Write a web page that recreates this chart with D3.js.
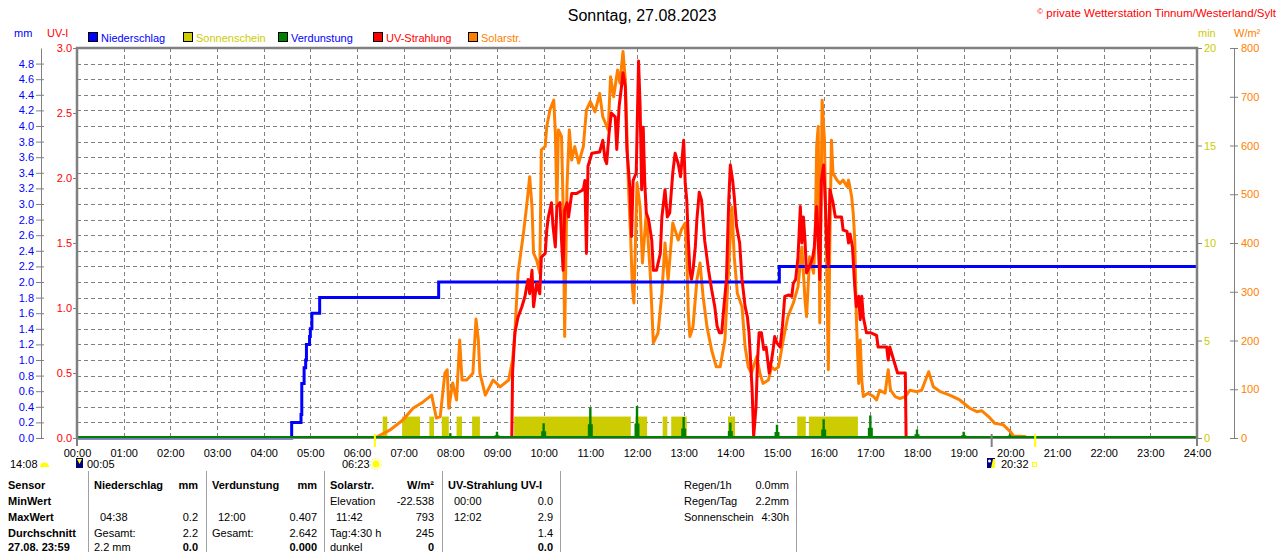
<!DOCTYPE html>
<html>
<head>
<meta charset="utf-8">
<script src="https://cdn.jsdelivr.net/npm/d3@7"></script>
<style>
body { margin: 0; background: #fff; }
svg { display: block; font-family: "Liberation Sans", Arial, sans-serif; font-size: 11px; }
</style>
</head>
<body>
<svg id="chart" width="1280" height="552"></svg>
<script>
// ---- data (times are minutes after midnight) ----
var hourLabels = ["00:00","01:00","02:00","03:00","04:00","05:00","06:00","07:00","08:00","09:00","10:00","11:00","12:00",
                  "13:00","14:00","15:00","16:00","17:00","18:00","19:00","20:00","21:00","22:00","23:00","24:00"];
var mmTicks = [0.0,0.2,0.4,0.6,0.8,1.0,1.2,1.4,1.6,1.8,2.0,2.2,2.4,2.6,2.8,3.0,3.2,3.4,3.6,3.8,4.0,4.2,4.4,4.6,4.8];
var uvTicks = [0.0,0.5,1.0,1.5,2.0,2.5,3.0];
var minTicks = [0,5,10,15,20];
var wTicks = [0,100,200,300,400,500,600,700,800];

// Niederschlag, cumulated (mm)
var rainTime = [0,276,288,289,292,294,295,298,299,300,302,310,312,465,903,1440];
var rainMm   = [0,0.2,0.3,0.7,0.9,1.0,1.2,1.2,1.3,1.4,1.6,1.6,1.8,2.0,2.2,2.2];

// Sonnenschein (min), intervals
var sunStart = [393,418,453,469,488,508,562,718,753,764,837,926,941];
var sunEnd   = [399,441,459,478,495,518,712,733,759,784,846,937,1004];
var sunMin   = [1.1,1.1,1.1,1.1,1.1,1.1,1.1,1.1,1.1,1.1,1.1,1.1,1.1];

// Verdunstung per hour (mm)
var evapTime = [60,120,180,240,300,360,420,480,540,600,660,720,780,840,900,960,1020,1080,1140,1200,1260,1320,1380];
var evapMm   = [0.02,0.02,0.02,0.02,0.02,0.02,0.01,0.06,0.08,0.19,0.39,0.41,0.27,0.20,0.17,0.24,0.29,0.11,0.08,0.07,0.025,0.025,0.025];

// Solarstrahlung (W/m2)
var solarTime = [383,402,419,432,445,456,458,462,467,473,476,478,483,488,492,495,501,509,513,516,518,525,535,544,555,560,563,567,574,578,
  582,585,587,591,595,597,602,604,608,613,615,617,619,623,625,627,630,633,636,640,645,651,655,660,666,672,676,683,686,690,
  695,698,702,705,709,712,714,716,720,724,727,732,737,741,747,752,756,760,766,773,777,782,784,786,788,792,797,801,805,810,
  816,822,827,833,837,842,845,849,855,859,863,867,874,878,882,889,893,897,902,908,914,921,927,932,936,938,942,947,949,951,
  953,955,958,961,964,966,968,970,972,977,981,985,990,992,996,998,1000,1002,1005,1007,1009,1011,1017,1024,1028,1032,1039,1043,1046,1052,
  1058,1065,1071,1080,1086,1095,1101,1110,1122,1135,1148,1157,1163,1172,1180,1191,1200,1204,1219,1220];
var solarW = [0,16,37,61,74,88,72,41,44,133,140,61,113,78,201,119,119,133,244,201,133,88,119,105,119,160,215,338,420,474,
  536,474,379,365,338,591,598,639,673,693,626,474,632,618,474,208,516,632,570,598,564,598,673,690,669,707,659,632,741,700,
  755,728,793,734,516,406,310,277,523,474,359,462,338,195,215,297,400,324,441,406,427,441,372,256,208,228,324,359,290,228,
  180,146,146,201,324,474,372,297,269,187,146,133,167,133,112,119,146,140,146,201,249,277,310,392,283,249,372,338,406,598,
  639,236,693,611,338,140,406,611,543,529,522,529,516,529,495,461,406,249,112,201,119,85,92,85,78,98,92,140,98,85,
  81,85,98,95,98,136,105,95,88,78,61,54,56,44,30,27,13,4,3,0];

// UV-Strahlung (UV-I)
var uvTime = [559,560,563,567,572,576,578,580,582,585,587,591,595,597,602,604,606,610,612,615,617,621,623,625,627,630,632,636,642,645,
  651,653,655,657,662,672,676,679,681,684,687,692,694,697,700,702,705,707,711,713,715,719,722,724,726,728,730,732,735,739,
  741,745,750,752,756,759,762,766,769,773,776,780,782,784,786,788,790,792,795,797,800,803,807,812,816,820,823,826,829,831,
  835,838,840,843,845,848,852,855,859,862,864,866,868,870,873,875,877,880,883,886,888,890,893,895,897,900,904,907,910,915,
  919,921,924,927,930,932,934,936,938,942,946,948,951,953,955,957,960,962,964,966,968,972,975,983,985,990,992,994,997,1000,
  1002,1005,1007,1009,1011,1015,1020,1028,1030,1041,1043,1045,1050,1055,1065,1066];
var uvVal = [0,0.5,0.81,0.93,1.01,1.09,1.16,1.22,1.11,1.29,1.01,1.19,1.11,1.39,1.42,1.60,1.70,1.81,1.63,1.47,1.78,1.81,1.52,1.29,1.75,1.81,1.70,1.88,1.88,1.89,
  1.91,1.98,1.42,2.09,2.19,2.20,2.29,2.14,2.11,2.34,2.50,2.47,2.22,2.55,2.70,2.81,2.70,2.22,1.91,1.55,1.98,2.04,2.90,2.55,1.91,2.39,1.96,1.73,1.68,1.52,
  1.29,1.29,1.42,1.70,1.91,1.70,1.73,2.04,2.19,2.11,2.01,2.29,1.96,1.83,1.52,1.29,1.22,1.29,1.47,1.68,1.89,1.83,1.52,1.29,1.14,1.01,0.86,0.81,0.81,0.96,
  1.22,1.83,2.10,1.98,1.86,1.63,1.50,1.22,1.01,0.93,0.81,0.60,0.37,0.01,0.24,0.60,0.81,0.81,0.68,0.70,0.60,0.50,0.60,0.68,0.78,0.73,0.70,0.86,1.09,1.10,
  1.09,1.19,1.22,1.39,1.78,1.50,1.70,1.52,1.27,1.32,1.39,1.47,1.78,1.52,1.22,1.98,2.10,1.83,1.47,1.32,1.91,1.81,1.70,1.70,1.60,1.59,1.50,1.57,1.47,1.16,
  1.01,1.09,0.91,1.09,0.93,0.81,0.81,0.79,0.70,0.70,0.60,0.70,0.60,0.50,0.50,0];

// legend
var legendNames  = ["Niederschlag","Sonnenschein","Verdunstung","UV-Strahlung","Solarstr."];
var legendFill   = ["#0000ff","#cccc00","#008000","#ff0000","#ff8000"];
var legendText   = ["#0000ff","#cccc00","#0000ff","#ff0000","#ff8000"];

// time markers below the axis
var markTime  = [383,1176,1232];
var markColor = ["#ffff00","#808080","#ffff00"];

// table under the chart
var rowLabels = ["Sensor","MinWert","MaxWert","Durchschnitt","27.08. 23:59"];
var colNames  = ["Niederschlag","Verdunstung","Solarstr.","UV-Strahlung UV-I"];
var colUnits  = ["mm","mm","W/m²",""];
var minLeft   = ["","","Elevation","00:00"];
var minRight  = ["","","-22.538","0.0"];
var maxLeft   = ["04:38","12:00","11:42","12:02"];
var maxRight  = ["0.2","0.407","793","2.9"];
var avgLeft   = ["Gesamt:","Gesamt:","Tag:4:30 h",""];
var avgRight  = ["2.2","2.642","245","1.4"];
var curLeft   = ["2.2 mm","","dunkel",""];
var curRight  = ["0.0","0.000","0","0.0"];
var sideNames = ["Regen/1h","Regen/Tag","Sonnenschein"];
var sideVals  = ["0.0mm","2.2mm","4:30h"];

// ---- drawing ----
var svg = d3.select("#chart");
var L = 77, R = 1197, T = 48, B = 438;

var x = d3.scaleLinear().domain([0, 1440]).range([L, R]);
var yMm = d3.scaleLinear().domain([0, 5]).range([B, T]);
var yUV = d3.scaleLinear().domain([0, 3]).range([B, T]);
var yMin = d3.scaleLinear().domain([0, 20]).range([B, T]);
var yW = d3.scaleLinear().domain([0, 800]).range([B, T]);

svg.append("rect").attr("width", 1280).attr("height", 552).attr("fill", "#fff");

// grid
var grid = svg.append("g").attr("stroke", "#808080").attr("stroke-dasharray", "4,3").attr("stroke-width", 1);
grid.selectAll("line.v").data(d3.range(60, 1440, 60)).join("line")
  .attr("x1", d => Math.round(x(d)) + 0.5).attr("x2", d => Math.round(x(d)) + 0.5)
  .attr("y1", T).attr("y2", B);
grid.selectAll("line.h").data(mmTicks.slice(1).concat([5])).join("line")
  .attr("x1", L).attr("x2", R)
  .attr("y1", d => Math.round(yMm(d)) + 0.5).attr("y2", d => Math.round(yMm(d)) + 0.5);

// sunshine bars
svg.append("g").selectAll("rect").data(sunStart).join("rect")
  .attr("x", (d, i) => x(d)).attr("width", (d, i) => x(sunEnd[i]) - x(d))
  .attr("y", (d, i) => yMin(sunMin[i])).attr("height", (d, i) => yMin(0) - yMin(sunMin[i]))
  .attr("fill", "#cccc00");

// evaporation spikes
svg.append("g").selectAll("path").data(evapTime).join("path")
  .attr("d", function(t, i) {
    var cx = x(t), v = evapMm[i], top = yMm(v), mid = yMm(v * 0.45), base = yMm(0);
    return "M" + (cx - 2.5) + "," + base + "V" + mid + "H" + (cx - 1.2) + "V" + top +
           "H" + (cx + 1.2) + "V" + mid + "H" + (cx + 2.5) + "V" + base + "Z";
  })
  .attr("fill", "#008000");

// solar
var solarData = solarTime.map((t, i) => ({ t: t, v: solarW[i] }));
svg.append("path").datum(solarData)
  .attr("d", d3.line().x(d => x(d.t)).y(d => yW(d.v)))
  .attr("fill", "none").attr("stroke", "#ff8000").attr("stroke-width", 3).attr("stroke-linejoin", "round");

// rain
var rainData = rainTime.map((t, i) => ({ t: t, v: rainMm[i] }));
svg.append("path").datum(rainData)
  .attr("d", d3.line().x(d => x(d.t)).y(d => yMm(d.v)).curve(d3.curveStepAfter))
  .attr("fill", "none").attr("stroke", "#0000ff").attr("stroke-width", 3);

// uv
var uvData = uvTime.map((t, i) => ({ t: t, v: uvVal[i] }));
svg.append("path").datum(uvData)
  .attr("d", d3.line().x(d => x(d.t)).y(d => yUV(d.v)))
  .attr("fill", "none").attr("stroke", "#ff0000").attr("stroke-width", 3).attr("stroke-linejoin", "round");

// frame
svg.append("line").attr("x1", L).attr("x2", R).attr("y1", B + 0.5).attr("y2", B + 0.5).attr("stroke", "#808080");
svg.append("line").attr("x1", L).attr("x2", R).attr("y1", B - 1).attr("y2", B - 1).attr("stroke", "#008000").attr("stroke-width", 2);
svg.append("path").attr("d", "M" + L + "," + B + "V" + T + "H" + R + "V" + B)
  .attr("fill", "none").attr("stroke", "#808080").attr("stroke-width", 2.5);

// axes
function styleAxis(g, color) {
  g.selectAll(".tick line").attr("stroke", "#808080");
  g.selectAll(".domain").attr("stroke", "#808080");
  g.selectAll("text").attr("fill", color).style("font-family", "Liberation Sans, Arial, sans-serif").style("font-size", "11px");
}

var mmAxis = svg.append("g").attr("transform", "translate(41,0)")
  .call(d3.axisLeft(yMm).tickValues(mmTicks).tickFormat(d3.format(".1f")).tickSize(5).tickSizeOuter(0).tickPadding(2));
mmAxis.selectAll(".tick line").attr("x1", 3);
styleAxis(mmAxis, "#0000ff");

var uvAxis = svg.append("g").attr("transform", "translate(" + L + ",0)")
  .call(d3.axisLeft(yUV).tickValues(uvTicks).tickFormat(d3.format(".1f")).tickSize(4).tickSizeOuter(0).tickPadding(1));
uvAxis.select(".domain").remove();
styleAxis(uvAxis, "#ff0000");

var minAxis = svg.append("g").attr("transform", "translate(" + R + ",0)")
  .call(d3.axisRight(yMin).tickValues(minTicks).tickSize(5).tickSizeOuter(0).tickPadding(2));
minAxis.select(".domain").remove();
styleAxis(minAxis, "#cccc00");

var wAxis = svg.append("g").attr("transform", "translate(1234,0)")
  .call(d3.axisRight(yW).tickValues(wTicks).tickSize(4).tickSizeOuter(0).tickPadding(3));
wAxis.selectAll(".tick line").attr("x1", -4);
styleAxis(wAxis, "#ff8000");

var xAxis = svg.append("g").attr("transform", "translate(0," + B + ")")
  .call(d3.axisBottom(x).tickValues(d3.range(0, 1441, 60)).tickFormat((d, i) => hourLabels[i]).tickSize(0).tickPadding(11));
xAxis.select(".domain").remove();
styleAxis(xAxis, "#000");
xAxis.selectAll("line.end").data([0, 1440]).join("line").attr("class", "end")
  .attr("x1", d => x(d)).attr("x2", d => x(d)).attr("y1", 0).attr("y2", 8)
  .attr("stroke", "#808080").attr("stroke-width", 2);

// markers below the axis
svg.append("g").selectAll("line").data(markTime).join("line")
  .attr("x1", d => x(d)).attr("x2", d => x(d)).attr("y1", B - 4).attr("y2", B + 9)
  .attr("stroke", (d, i) => markColor[i]).attr("stroke-width", 2);

// titles
svg.append("text").attr("x", 642).attr("y", 21).attr("text-anchor", "middle")
  .style("font-size", "16px").text("Sonntag, 27.08.2023");
var copy = svg.append("text").attr("x", 1276).attr("y", 17).attr("text-anchor", "end")
  .attr("fill", "#ff0000").style("font-size", "11.5px");
copy.append("tspan").style("font-size", "8px").attr("dy", -3).text("©");
copy.append("tspan").attr("dy", 3).text(" private Wetterstation Tinnum/Westerland/Sylt");

svg.append("text").attr("x", 14).attr("y", 37).attr("fill", "#0000ff").text("mm");
svg.append("text").attr("x", 47).attr("y", 37).attr("fill", "#ff0000").text("UV-I");
svg.append("text").attr("x", 1198).attr("y", 37).attr("fill", "#cccc00").text("min");
svg.append("text").attr("x", 1234).attr("y", 37).attr("fill", "#ff8000").text("W/m²");

// legend
var leg = svg.append("g").selectAll("g").data(legendNames).join("g")
  .attr("transform", (d, i) => "translate(" + (88 + i * 95) + ",0)");
leg.append("rect").attr("x", 0.5).attr("y", 32.5).attr("width", 9).attr("height", 9)
  .attr("fill", (d, i) => legendFill[i]).attr("stroke", "#000");
leg.append("text").attr("x", 13).attr("y", 42).attr("fill", (d, i) => legendText[i]).text(d => d);

// sun / moon line
svg.append("text").attr("x", 10).attr("y", 468).text("14:08");
svg.append("path").attr("d", "M40,467 A4.5,4.5 0 0 1 49,467 Z").attr("fill", "#ffff00");
svg.append("rect").attr("x", 76).attr("y", 458).attr("width", 7).attr("height", 10).attr("fill", "#000080");
svg.append("path").attr("d", "M77,459 L82,459 L79.5,464 Z").attr("fill", "#ffff00");
svg.append("text").attr("x", 87).attr("y", 468).text("00:05");
svg.append("text").attr("x", 342).attr("y", 468).text("06:23");
svg.append("circle").attr("cx", 376).attr("cy", 464).attr("r", 3.5).attr("fill", "#ffff00");
svg.append("circle").attr("cx", 376).attr("cy", 464).attr("r", 5.5).attr("fill", "none").attr("stroke", "#ffff00").attr("stroke-dasharray", "1.5,1.5");
svg.append("rect").attr("x", 987).attr("y", 458).attr("width", 8).attr("height", 10).attr("fill", "#000080");
svg.append("path").attr("d", "M993,459 L995,459 L995,468 L991,468 Z").attr("fill", "#ffff00");
svg.append("circle").attr("cx", 989.5).attr("cy", 461).attr("r", 1.5).attr("fill", "#fff");
svg.append("text").attr("x", 1001).attr("y", 468).text("20:32");
svg.append("rect").attr("x", 1032.5).attr("y", 462.5).attr("width", 4).attr("height", 4).attr("fill", "none").attr("stroke", "#ffff00");

// table
var rowY = [489, 505, 521, 537, 551];
var colLeft = [94, 212, 330, 448];
var colRight = [198, 317, 434, 553];
var sepX = [88, 206, 324, 442, 560, 796];
var tbl = svg.append("g");
tbl.selectAll("line").data(sepX).join("line")
  .attr("x1", d => d + 0.5).attr("x2", d => d + 0.5).attr("y1", 471).attr("y2", 552)
  .attr("stroke", "#a0a0a0");
tbl.selectAll("text.row").data(rowLabels).join("text").attr("class", "row")
  .attr("x", 8).attr("y", (d, i) => rowY[i]).style("font-weight", "bold").text(d => d);

function cell(tx, ty, s, anchor, bold) {
  if (!s) return;
  var indent = (/^\d\d:\d\d$/.test(s) && anchor === "start") ? 6 : 0;
  tbl.append("text").attr("x", tx + indent).attr("y", ty).attr("text-anchor", anchor)
    .style("font-weight", bold ? "bold" : "normal").text(s);
}
colNames.forEach(function(name, i) {
  cell(colLeft[i], rowY[0], name, "start", true);
  cell(colRight[i], rowY[0], colUnits[i], "end", true);
  cell(colLeft[i], rowY[1], minLeft[i], "start", false);
  cell(colRight[i], rowY[1], minRight[i], "end", false);
  cell(colLeft[i], rowY[2], maxLeft[i], "start", false);
  cell(colRight[i], rowY[2], maxRight[i], "end", false);
  cell(colLeft[i], rowY[3], avgLeft[i], "start", false);
  cell(colRight[i], rowY[3], avgRight[i], "end", false);
  cell(colLeft[i], rowY[4], curLeft[i], "start", false);
  cell(colRight[i], rowY[4], curRight[i], "end", true);
});
sideNames.forEach(function(name, i) {
  cell(684, rowY[i], name, "start", false);
  cell(789, rowY[i], sideVals[i], "end", false);
});
</script>
</body>
</html>
